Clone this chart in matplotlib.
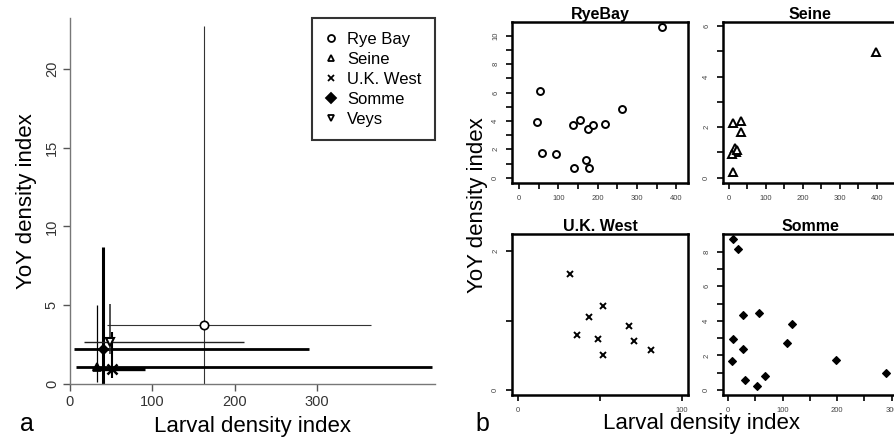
import matplotlib
matplotlib.use("Agg")
import matplotlib.pyplot as plt
from matplotlib.lines import Line2D

plt.rcParams['font.family'] = ['Liberation Sans', 'DejaVu Sans']

# ---------------- Panel a data (means and bar extents) ----------------
sites = ["Rye Bay", "Seine", "U.K. West", "Somme", "Veys"]
mean_x = [163, 32.5, 51.5, 40.5, 48.5]
mean_y = [3.75, 1.08, 0.95, 2.25, 2.65]
x_lo = [45, 7, 27, 5, 17]
x_hi = [366, 440, 91, 290, 211]
y_lo = [0, 0.1, 0.35, 0, 1.9]
y_hi = [22.7, 5.0, 3.3, 8.7, 5.1]

# ---------------- Panel b data ----------------
rye_x = [365, 53, 45, 57, 93, 140, 138, 154, 176, 187, 170, 178, 220, 261]
rye_y = [10.63, 6.08, 3.92, 1.76, 1.69, 0.68, 3.71, 4.06, 3.45, 3.73, 1.27, 0.66, 3.76, 4.84]

seine_x = [396, 13, 33, 33, 18, 20, 9, 13, 22]
seine_y = [4.98, 2.15, 2.24, 1.79, 1.16, 1.03, 0.94, 0.24, 1.10]

ukw_x = [31.6, 51.6, 43.3, 67.9, 36.1, 48.6, 71, 51.6, 81]
ukw_y = [1.68, 1.21, 1.06, 0.93, 0.79, 0.74, 0.71, 0.51, 0.58]

somme_x = [8.6, 18.4, 26.4, 57, 116.4, 9.2, 26.4, 107.2, 6.2, 197.7, 290, 30.1, 66.8, 53.2]
somme_y = [8.71, 8.15, 4.34, 4.47, 3.82, 2.93, 2.39, 2.70, 1.68, 1.72, 1.00, 0.58, 0.81, 0.25]

W, H = 895, 446
fig = plt.figure(figsize=(W / 100, H / 100), dpi=100)


def rect(l, r, t, b):
    return [l / W, 1 - b / H, (r - l) / W, (b - t) / H]


# ---------------- Panel a ----------------
ax = fig.add_axes(rect(70, 435, 18.3, 384))
ax.set_xlim(0, 443.5)
ax.set_ylim(0, 23.2)

styles = [
    dict(hlw=0.8, vlw=0.8, col='#333333', marker='o', mfc='white', ms=6, mew=1.2),
    dict(hlw=2.0, vlw=0.9, col='black', marker='^', mfc='black', ms=6, mew=1.2),
    dict(hlw=2.4, vlw=1.5, col='black', marker='x', mfc='black', ms=7, mew=1.8),
    dict(hlw=2.0, vlw=2.2, col='black', marker='D', mfc='black', ms=5.5, mew=1),
    dict(hlw=1.0, vlw=1.1, col='#222222', marker='v', mfc='white', ms=6, mew=1.5),
]
legend_fill = ['white', 'white', 'black', 'black', 'white']
handles = []
for i, s in enumerate(sites):
    st = styles[i]
    ax.hlines(mean_y[i], x_lo[i], x_hi[i], color=st['col'], lw=st['hlw'])
    ax.vlines(mean_x[i], y_lo[i], y_hi[i], color=st['col'], lw=st['vlw'])
    ax.plot(mean_x[i], mean_y[i], linestyle='none', marker=st['marker'],
            mfc=st['mfc'], mec='black', ms=st['ms'], mew=st['mew'])
    handles.append(Line2D([], [], linestyle='none', marker=st['marker'], mfc=legend_fill[i],
                          mec='black', ms=5, mew=1.3))

for sp in ['top', 'right']:
    ax.spines[sp].set_visible(False)
for sp in ['left', 'bottom']:
    ax.spines[sp].set_color('#777777')
    ax.spines[sp].set_linewidth(1.0)
ax.set_xticks([0, 100, 200, 300])
ax.set_yticks([0, 5, 10, 15, 20])
ax.tick_params(direction='out', length=5, width=1, color='#555555',
               labelsize=10.5, labelcolor='#333333', pad=3)
for lab in ax.get_yticklabels():
    lab.set_rotation(90)
    lab.set_va('center')
ax.set_xlabel('Larval density index', fontsize=16, labelpad=5)
ax.set_ylabel('YoY density index', fontsize=16, labelpad=6)

leg = ax.legend(handles, sites, loc='upper right', bbox_to_anchor=(1.0, 1.0),
                fontsize=12, frameon=True, fancybox=False, edgecolor='black',
                borderpad=0.8, labelspacing=0.3, handlelength=0.7,
                handletextpad=0.6, borderaxespad=0)
leg.get_frame().set_linewidth(1.5)

fig.text(27 / W, 1 - 424 / H, 'a', fontsize=18, ha='center', va='center')
fig.text(482 / W, 1 - 424 / H, 'b', fontsize=18, ha='center', va='center')

# ---------------- Panel b ----------------
panels = [
    dict(name='RyeBay', x=rye_x, y=rye_y, pos=(511.7, 688.3, 21.7, 182.7),
         xlim=(-19, 431), ylim=(-0.35, 11.0), xt=range(0, 401, 50), xl=[0, 100, 200, 300, 400],
         yt=range(0, 11), yl=[0, 2, 4, 6, 8, 10],
         mk=dict(marker='o', mfc='white', ms=5, mew=1.4)),
    dict(name='Seine', x=seine_x, y=seine_y, pos=(722.7, 898.2, 21.7, 182.7),
         xlim=(-16, 457), ylim=(-0.2, 6.17), xt=range(0, 451, 50), xl=[0, 100, 200, 300, 400],
         yt=range(0, 7), yl=[0, 2, 4, 6],
         mk=dict(marker='^', mfc='white', ms=6, mew=1.4)),
    dict(name='U.K. West', x=ukw_x, y=ukw_y, pos=(511.7, 688.3, 234, 395),
         xlim=(-4, 104), ylim=(-0.07, 2.25), xt=[0, 50, 100], xl=[0, 100],
         yt=[0, 1, 2], yl=[0, 2],
         mk=dict(marker='x', mfc='black', ms=5, mew=1.4)),
    dict(name='Somme', x=somme_x, y=somme_y, pos=(722.7, 898.2, 234, 395),
         xlim=(-10.2, 312), ylim=(-0.29, 9.02), xt=range(0, 301, 50), xl=[0, 100, 200, 300],
         yt=range(0, 9), yl=[0, 2, 4, 6, 8],
         mk=dict(marker='D', mfc='black', ms=4.5, mew=0.8)),
]

for p in panels:
    a = fig.add_axes(rect(*p['pos']))
    a.plot(p['x'], p['y'], linestyle='none', mec='black', **p['mk'])
    a.set_xlim(*p['xlim'])
    a.set_ylim(*p['ylim'])
    a.set_xticks(list(p['xt']))
    a.set_xticklabels([str(v) if v in p['xl'] else '' for v in p['xt']])
    a.set_yticks(list(p['yt']))
    a.set_yticklabels([str(v) if v in p['yl'] else '' for v in p['yt']])
    for sp in a.spines.values():
        sp.set_linewidth(1.8)
    a.tick_params(direction='out', length=4, width=1.2, labelsize=5.5,
                  labelcolor='#444444', pad=5)
    for lab in a.get_yticklabels():
        lab.set_rotation(90)
        lab.set_va('center')
    a.set_title(p['name'], fontsize=11.5, fontweight='bold', pad=2)

fig.text(701.5 / W, 1 - 424 / H, 'Larval density index', fontsize=16,
         ha='center', va='center')
fig.text(478 / W, 1 - 205 / H, 'YoY density index', fontsize=16,
         ha='center', va='center', rotation=90)

fig.savefig('out.png', dpi=100)
